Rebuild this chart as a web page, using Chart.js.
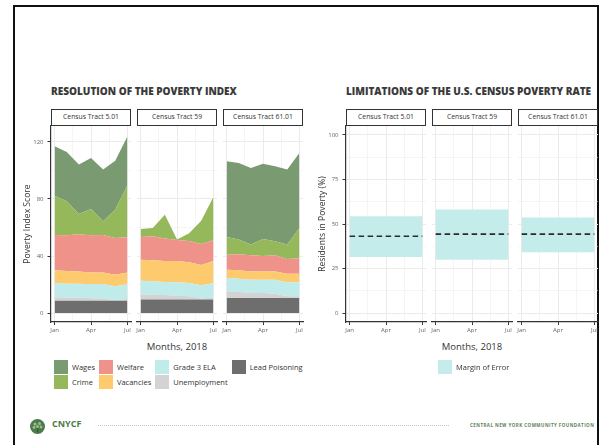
<!DOCTYPE html>
<html>
<head>
<meta charset="utf-8">
<script src="https://cdn.jsdelivr.net/npm/chart.js@4.4.1/dist/chart.umd.min.js"></script>
<style>
  body { margin: 0; width: 602px; height: 445px; overflow: hidden; position: relative; background: #fff; font-family: "Open Sans", sans-serif; }
  canvas { position: absolute; }
  .frame { position: absolute; left: 13px; top: 5px; width: 586px; height: 470px; border: 2px solid #111; border-bottom: none; box-sizing: border-box; }
  .title { position: absolute; top: 85px; font-weight: 800; font-size: 10px; line-height: 12px; color: #3a3a3a; white-space: nowrap; }
  .strip { position: absolute; top: 109px; height: 17px; box-sizing: border-box; border: 1.3px solid #333; background: #fff; font-size: 6.8px; line-height: 14.4px; color: #333; text-align: center; white-space: nowrap; }
  .xtitle { position: absolute; top: 340px; font-size: 9.5px; line-height: 13px; color: #333; text-align: center; white-space: nowrap; }
  .legend { position: absolute; top: 360px; display: grid; grid-auto-flow: column; grid-template-rows: 14px 14px; row-gap: 1px; column-gap: 4px; font-size: 7.5px; color: #333; }
  .item { display: flex; align-items: center; white-space: nowrap; }
  .key { width: 14px; height: 14px; margin-right: 4px; }
  .foot { position: absolute; white-space: nowrap; }
</style>
</head>
<body>
<div class="frame"></div>
<div class="title" style="left:51px">RESOLUTION OF THE POVERTY INDEX</div>
<div class="title" style="left:346px">LIMITATIONS OF THE U.S. CENSUS POVERTY RATE</div>
<div id="page"></div>

<div class="foot" style="left:30px;top:417px">
  <svg width="15" height="15" viewBox="0 0 15 15">
    <circle cx="7.5" cy="7.5" r="7.5" fill="#4c7b49"/>
    <circle cx="5" cy="5" r="1.6" fill="#9dbb95"/><circle cx="9.5" cy="4.5" r="1.5" fill="#9dbb95"/>
    <circle cx="4" cy="8.5" r="1.4" fill="#9dbb95"/><circle cx="7.5" cy="7.5" r="1.5" fill="#9dbb95"/>
    <circle cx="11" cy="8" r="1.4" fill="#9dbb95"/><rect x="7" y="9.5" width="1.2" height="4" fill="#2f5a2e"/>
  </svg>
</div>
<div class="foot" style="left:52px;top:418px;font-size:9px;font-weight:700;color:#4c7b49;line-height:12px">CNYCF</div>
<div class="foot" style="left:98px;top:425px;width:351px;border-top:1px dotted #c4c4c4"></div>
<div class="foot" style="left:470px;top:422px;font-size:4.5px;font-weight:700;letter-spacing:0.45px;color:#5b8257;line-height:6px">CENTRAL NEW YORK COMMUNITY FOUNDATION</div>

<script>
// 月と目盛り
const months = ["Jan", "Feb", "Mar", "Apr", "May", "Jun", "Jul"];
const monthTicks = ["Jan", "Apr", "Jul"];
const tracts = ["Census Tract 5.01", "Census Tract 59", "Census Tract 61.01"];

// 指標の内訳（下から積み上げ順）, 各配列は [5.01, 59, 61.01]
const seriesNames = ["Lead Poisoning", "Unemployment", "Grade 3 ELA", "Vacancies", "Welfare", "Crime", "Wages"];
const leadPoisoning = [
  [8.6, 8.6, 8.6, 8.6, 8.6, 8.6, 8.6],
  [9.5, 9.5, 9.5, 9.5, 9.5, 9.5, 9.5],
  [10.5, 10.5, 10.5, 10.5, 10.5, 10.5, 10.5]
];
const unemployment = [
  [2.4, 2.3, 2.2, 1.8, 1.6, 0.4, 1.2],
  [3.7, 3.4, 3.1, 2.7, 2.3, 0.7, 1.3],
  [4.7, 4.2, 3.5, 3.5, 3.1, 1.2, 1.2]
];
const grade3Ela = [
  [10.0, 9.7, 9.7, 9.7, 10.1, 9.7, 10.3],
  [9.5, 9.3, 9.2, 9.3, 9.2, 9.2, 10.0],
  [9.4, 9.4, 9.4, 9.4, 9.8, 9.8, 9.8]
];
const vacancies = [
  [9.0, 8.9, 8.7, 8.4, 8.2, 8.2, 8.4],
  [14.7, 14.8, 14.7, 15.0, 14.6, 14.3, 15.7],
  [5.8, 5.9, 5.8, 5.8, 5.8, 6.1, 6.1]
];
const welfare = [
  [24.7, 25.0, 26.0, 26.0, 26.2, 25.7, 24.6],
  [15.9, 16.8, 15.7, 14.7, 14.9, 14.7, 14.5],
  [10.5, 11.2, 11.3, 10.8, 11.3, 10.3, 10.8]
];
const crime = [
  [27.6, 23.9, 14.3, 18.5, 9.6, 19.9, 36.3],
  [5.7, 5.8, 16.8, 0.3, 5.5, 16.4, 30.4],
  [12.4, 10.3, 7.5, 12.0, 9.8, 10.1, 21.2]
];
const wages = [
  [34.7, 34.6, 34.7, 35.8, 36.4, 34.3, 34.4],
  [0, 0, 0, 0, 0, 0, 0],
  [53.1, 53.8, 53.8, 52.8, 52.7, 52.6, 52.7]
];
const indexTicks = [0, 40, 80, 120];

// 国勢調査の貧困率と誤差範囲
const povertyRate = [43.1, 44.3, 44.3];
const moeLow = [31.5, 30.0, 34.1];
const moeHigh = [54.4, 58.2, 53.7];
const rateTicks = [0, 25, 50, 75, 100];

const seriesData = [leadPoisoning, unemployment, grade3Ela, vacancies, welfare, crime, wages];
const seriesColors = ["#6e6e6e", "#d3d3d3", "#bfebeb", "#fdcb6e", "#ee928a", "#94b85a", "#7a9a72"];
const moeColor = "#c3ecea";

Chart.defaults.font.family = "'Open Sans', sans-serif";

const PANEL_W = 80;
const leftPanels = [51, 137, 223];
const rightPanels = [346, 432, 518];
const page = document.getElementById("page");

// 主目盛りの間に補助目盛りを入れる (ggplot風)
function withMinor(major) {
  const out = [];
  major.forEach((v, i) => {
    out.push(v);
    if (i < major.length - 1) out.push((v + major[i + 1]) / 2);
  });
  return out;
}

const xMajor = monthTicks.map(m => months.indexOf(m));
const xGrid = withMinor(xMajor);

function gridOpts(major, tickLen) {
  return {
    color: "#ebebeb",
    lineWidth: c => (c.tick && major.includes(c.tick.value) ? 1 : 0.5),
    tickColor: c => (c.tick && major.includes(c.tick.value) ? "#333" : "rgba(0,0,0,0)"),
    tickLength: tickLen,
    drawTicks: tickLen > 0
  };
}

function makePanel(left, first, datasets, yRange, yMajor, yTitle, stacked) {
  const cLeft = first ? left - 41 : left - 8;
  const cW = first ? 41 + PANEL_W + 8 : PANEL_W + 16;
  const cv = document.createElement("canvas");
  cv.width = cW; cv.height = 222;
  cv.style.left = cLeft + "px"; cv.style.top = "118px";
  page.appendChild(cv);
  const yGrid = withMinor(yMajor);

  new Chart(cv.getContext("2d"), {
    type: "line",
    data: { datasets: datasets },
    options: {
      responsive: false,
      animation: false,
      layout: { padding: { left: first ? 0 : 8, right: 8, top: 8, bottom: 0 } },
      plugins: { legend: { display: false }, tooltip: { enabled: false } },
      elements: { point: { radius: 0 }, line: { tension: 0 } },
      scales: {
        x: {
          type: "linear",
          min: -0.3, max: 6.3,
          afterBuildTicks: s => { s.ticks = xGrid.map(v => ({ value: v })); },
          afterFit: s => { s.height = 18; s.paddingLeft = 0; s.paddingRight = 0; },
          grid: gridOpts(xMajor, 3),
          border: { color: "#333", width: 1.2 },
          ticks: {
            autoSkip: false, maxRotation: 0, padding: 2, color: "#666", font: { size: 6 },
            callback: v => (xMajor.includes(v) ? months[v] : "")
          }
        },
        y: {
          stacked: stacked,
          min: yRange[0], max: yRange[1],
          afterBuildTicks: s => { s.ticks = yGrid.map(v => ({ value: v })); },
          afterFit: s => { s.width = first ? 41 : 0; s.paddingTop = 0; s.paddingBottom = 0; },
          grid: gridOpts(yMajor, first ? 3.5 : 0),
          border: { display: first, color: "#333", width: 1.2 },
          ticks: {
            display: first, padding: 4, color: "#666", font: { size: 6 },
            callback: v => (yMajor.includes(v) ? String(v) : "")
          },
          title: {
            display: first, text: yTitle, color: "#333", font: { size: 8.6 },
            padding: { top: 12, bottom: 0 }
          }
        }
      }
    }
  });
}

function strip(left, text) {
  const d = document.createElement("div");
  d.className = "strip";
  d.style.left = left + "px";
  d.style.width = PANEL_W + "px";
  d.textContent = text;
  page.appendChild(d);
}

// 左: 貧困指数の積み上げ面グラフ
tracts.forEach((name, t) => {
  const ds = seriesNames.map((s, k) => ({
    label: s,
    data: months.map((m, i) => ({ x: i, y: seriesData[k][t][i] })),
    backgroundColor: seriesColors[k],
    borderWidth: 0,
    fill: k === 0 ? "origin" : "-1"
  }));
  makePanel(leftPanels[t], t === 0, ds, [-6.3, 131.2], indexTicks, "Poverty Index Score", true);
  strip(leftPanels[t], name);
});

// 右: 国勢調査の貧困率 (Chart.jsは後ろのデータセットから描くので破線を先頭に)
const first = 0, last = months.length - 1;
tracts.forEach((name, t) => {
  const ds = [
    { label: "Poverty Rate", data: [{ x: first, y: povertyRate[t] }, { x: last, y: povertyRate[t] }], borderColor: "#2b2b2b", borderWidth: 1.6, borderDash: [5.5, 3.5], fill: false },
    { label: "low", data: [{ x: first, y: moeLow[t] }, { x: last, y: moeLow[t] }], borderWidth: 0, fill: false },
    { label: "Margin of Error", data: [{ x: first, y: moeHigh[t] }, { x: last, y: moeHigh[t] }], borderWidth: 0, backgroundColor: moeColor, fill: "-1" }
  ];
  makePanel(rightPanels[t], t === 0, ds, [-5, 105], rateTicks, "Residents in Poverty (%)", false);
  strip(rightPanels[t], name);
});

// x軸タイトル
[[leftPanels[0], leftPanels[2] + PANEL_W], [rightPanels[0], rightPanels[2] + PANEL_W]].forEach(([a, b]) => {
  const d = document.createElement("div");
  d.className = "xtitle";
  d.style.left = a + "px"; d.style.width = (b - a) + "px";
  d.textContent = "Months, 2018";
  page.appendChild(d);
});

// 凡例
function legend(left, names, colors) {
  const box = document.createElement("div");
  box.className = "legend";
  box.style.left = left + "px";
  names.forEach((n, i) => {
    const it = document.createElement("div");
    it.className = "item";
    it.innerHTML = '<span class="key" style="background:' + colors[i] + '"></span>' + n;
    box.appendChild(it);
  });
  page.appendChild(box);
}
legend(54, seriesNames.slice().reverse(), seriesColors.slice().reverse());
legend(438, ["Margin of Error"], [moeColor]);
</script>
</body>
</html>
